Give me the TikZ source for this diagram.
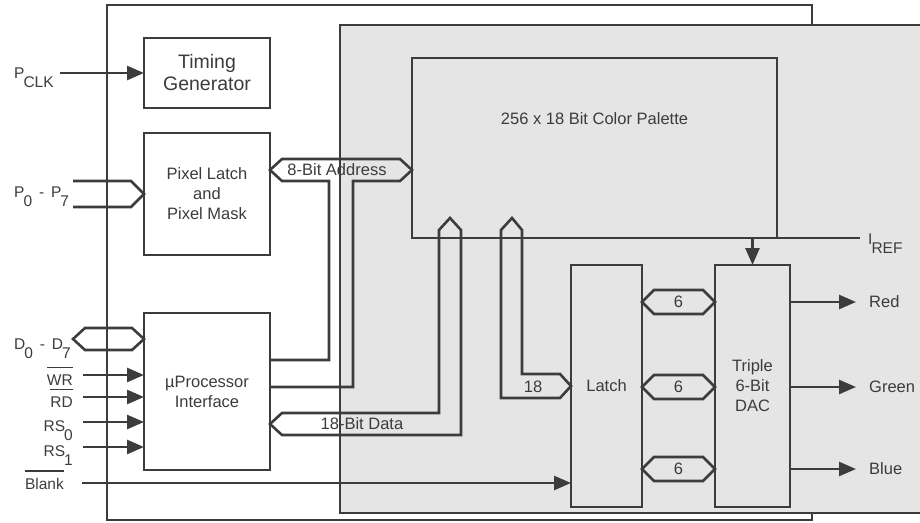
\documentclass[tikz,border=0pt]{standalone}
\usepackage{fontspec}
\setmainfont{Liberation Sans}
\usetikzlibrary{arrows.meta, positioning, calc}
\definecolor{InkGray}{RGB}{60, 60, 60}
\definecolor{ChipGray}{RGB}{229, 229, 229}
\newcommand{\lowsub}[1]{\kern-1pt\raisebox{-1.1ex}{#1}}
\newcommand{\barsig}[1]{\vbox{\hrule height 1.6pt\kern 6pt\hbox{#1}}}
\tikzset{
  blk/.style={rectangle, draw=InkGray, line width=2.6pt, fill=#1, inner sep=0pt,
              outer sep=0pt, align=center, text=InkGray,
              font=\fontsize{16.5}{20}\selectfont},
  blk/.default=white,
  arr/.style={-{Triangle[length=17pt, width=14pt]}, line width=2.6pt, draw=InkGray},
  bus/.style={line width=2.6pt, draw=InkGray, line join=miter},
  pin/.style={text=InkGray, inner sep=0pt, font=\fontsize{15.5}{18}\selectfont},
  tag/.style={text=InkGray, inner sep=0pt, font=\fontsize{16.5}{20}\selectfont},
}
\begin{document}
\begin{tikzpicture}[x=1pt, y=-1pt]
  \useasboundingbox (0,0) rectangle (920,522);
  \node[blk, minimum width=705pt, minimum height=515pt] (board) at (459.5,262.5) {};
  \node[blk=ChipGray, minimum width=600pt, minimum height=488pt] (core) at (640,269) {};

  \node[blk, minimum width=126pt, minimum height=70pt, font=\fontsize{19.5}{22}\selectfont] (tim)
       at (207,73) {Timing\\Generator};
  \node[blk, minimum width=126pt, minimum height=122pt, below=25pt of tim] (pix)
       {Pixel Latch\\and\\Pixel Mask};
  \node[blk, minimum width=126pt, minimum height=157pt, below=58pt of pix] (mpu)
       {µProcessor\\Interface};

  \node[blk=ChipGray, minimum width=365pt, minimum height=180pt] (pal) at (594.5,148) {};
  \node[tag, below=54pt of pal.north] (paltxt) {256 x 18 Bit Color Palette};
  \node[blk=ChipGray, minimum width=71pt, minimum height=242pt] (lat) at (606.5,386) {Latch};
  \node[blk=ChipGray, minimum width=75pt, minimum height=242pt, right=73pt of lat] (dac)
       {Triple\\6-Bit\\DAC};

  \node[pin, anchor=base west] (pclk) at (14,78) {P\lowsub{CLK}};
  \node[pin, anchor=base west] (pbus) at (14,197) {P\lowsub{0}\ \,-\ \,P\lowsub{7}};
  \node[pin, anchor=base west] (dbus) at (14,349) {D\lowsub{0}\ \,-\ \,D\lowsub{7}};
  \node[pin, anchor=base east] (wr) at (73,385) {\barsig{WR}};
  \node[pin, anchor=base east] (rd) at (73,407) {\barsig{RD}};
  \node[pin, anchor=base east] (rs0) at (73,431) {RS\lowsub{0}};
  \node[pin, anchor=base east] (rs1) at (73,456) {RS\lowsub{1}};
  \node[pin, anchor=base east] (blank) at (64,489) {\barsig{Blank}};
  \node[pin, anchor=base west] (iref) at (868,244) {I\lowsub{REF}};

  \coordinate (pxl-in) at (73,194);
  \coordinate (dat-in) at (73,339);
  \coordinate (wr-in) at (83,375);
  \coordinate (rd-in) at (83,397);
  \coordinate (rs0-in) at (83,422);
  \coordinate (rs1-in) at (83,447);
  \coordinate (blank-in) at (82,483);

  \draw[arr] ($(pclk.east |- tim.west)+(6,0)$) -- (tim.west);
  \draw[bus] ($(pxl-in)+(0,-13)$) -- ($(pix.west)+(-13,-13)$) -- (pix.west)
             -- ($(pix.west)+(-13,13)$) -- ($(pxl-in)+(0,13)$);
  \draw[bus] (dat-in) -- ++(12,-11) -- ($(dat-in -| mpu.west)+(-12,-11)$) -- (dat-in -| mpu.west)
             -- ++(-12,11) -- ($(dat-in)+(12,11)$) -- cycle;
  \draw[arr] (wr-in) -- (wr-in -| mpu.west);
  \draw[arr] (rd-in) -- (rd-in -| mpu.west);
  \draw[arr] (rs0-in) -- (rs0-in -| mpu.west);
  \draw[arr] (rs1-in) -- (rs1-in -| mpu.west);
  \draw[arr] (blank-in) -- (blank-in -| lat.west);

  \node[tag] (adr) at (337,170) {8-Bit Address};
  \coordinate (adr-a) at (329,360);
  \coordinate (adr-b) at (353,387);
  \draw[bus] (mpu.east |- adr-b) -- (adr-b) -- ++(0,-206) -- ($(pal.west |- adr)+(-12,11)$)
             -- (pal.west |- adr) -- ++(-12,-11) -- ($(pix.east |- adr)+(12,-11)$)
             -- (pix.east |- adr) -- ++(12,11) -- ($(adr-a |- adr)+(0,11)$) -- (adr-a)
             -- (mpu.east |- adr-a);

  \node[tag] (dat) at (362,424) {18-Bit Data};
  \coordinate (dtap) at (450,218);
  \draw[bus] (mpu.east |- dat) -- ++(12,-11) -- ($(dtap |- dat)+(-11,-11)$) -- ($(dtap)+(-11,12)$)
             -- (dtap) -- ++(11,12) -- ($(dtap |- dat)+(11,11)$) -- ($(mpu.east |- dat)+(12,11)$) -- cycle;

  \node[tag] (n18) at ($(lat.west)+(-38,1)$) {18};
  \coordinate (ltap) at (512,218);
  \draw[bus] (ltap) -- ++(10,12) -- ($(ltap |- lat.west)+(10,-12)$) -- ($(lat.west)+(-11,-12)$)
             -- (lat.west) -- ++(-11,12) -- ($(ltap |- lat.west)+(-11,12)$) -- ($(ltap)+(-11,12)$) -- cycle;

  \foreach \dy/\chan/\txt in {-84/red/Red, 1/green/Green, 83/blue/Blue} {
    \draw[bus] ($(lat.east)+(0,\dy)$) -- ++(12,-12) -- ++(49,0) -- ++(12,12)
               -- ++(-12,12) -- ++(-49,0) -- cycle;
    \node[tag] (six\chan) at ($(lat.east)+(36.5,\dy)$) {6};
    \node[tag, anchor=west] (\chan) at ($(dac.east)+(79,\dy)$) {\txt};
    \draw[arr, shorten >=13pt] (dac.east |- \chan.west) -- (\chan.west);
  }

  \draw[bus, shorten >=8pt] (dac.north |- pal.south) -- (pal.south -| iref.west);
  \draw[arr] (dac.north |- pal.south) -- (dac.north);
\end{tikzpicture}
\end{document}
